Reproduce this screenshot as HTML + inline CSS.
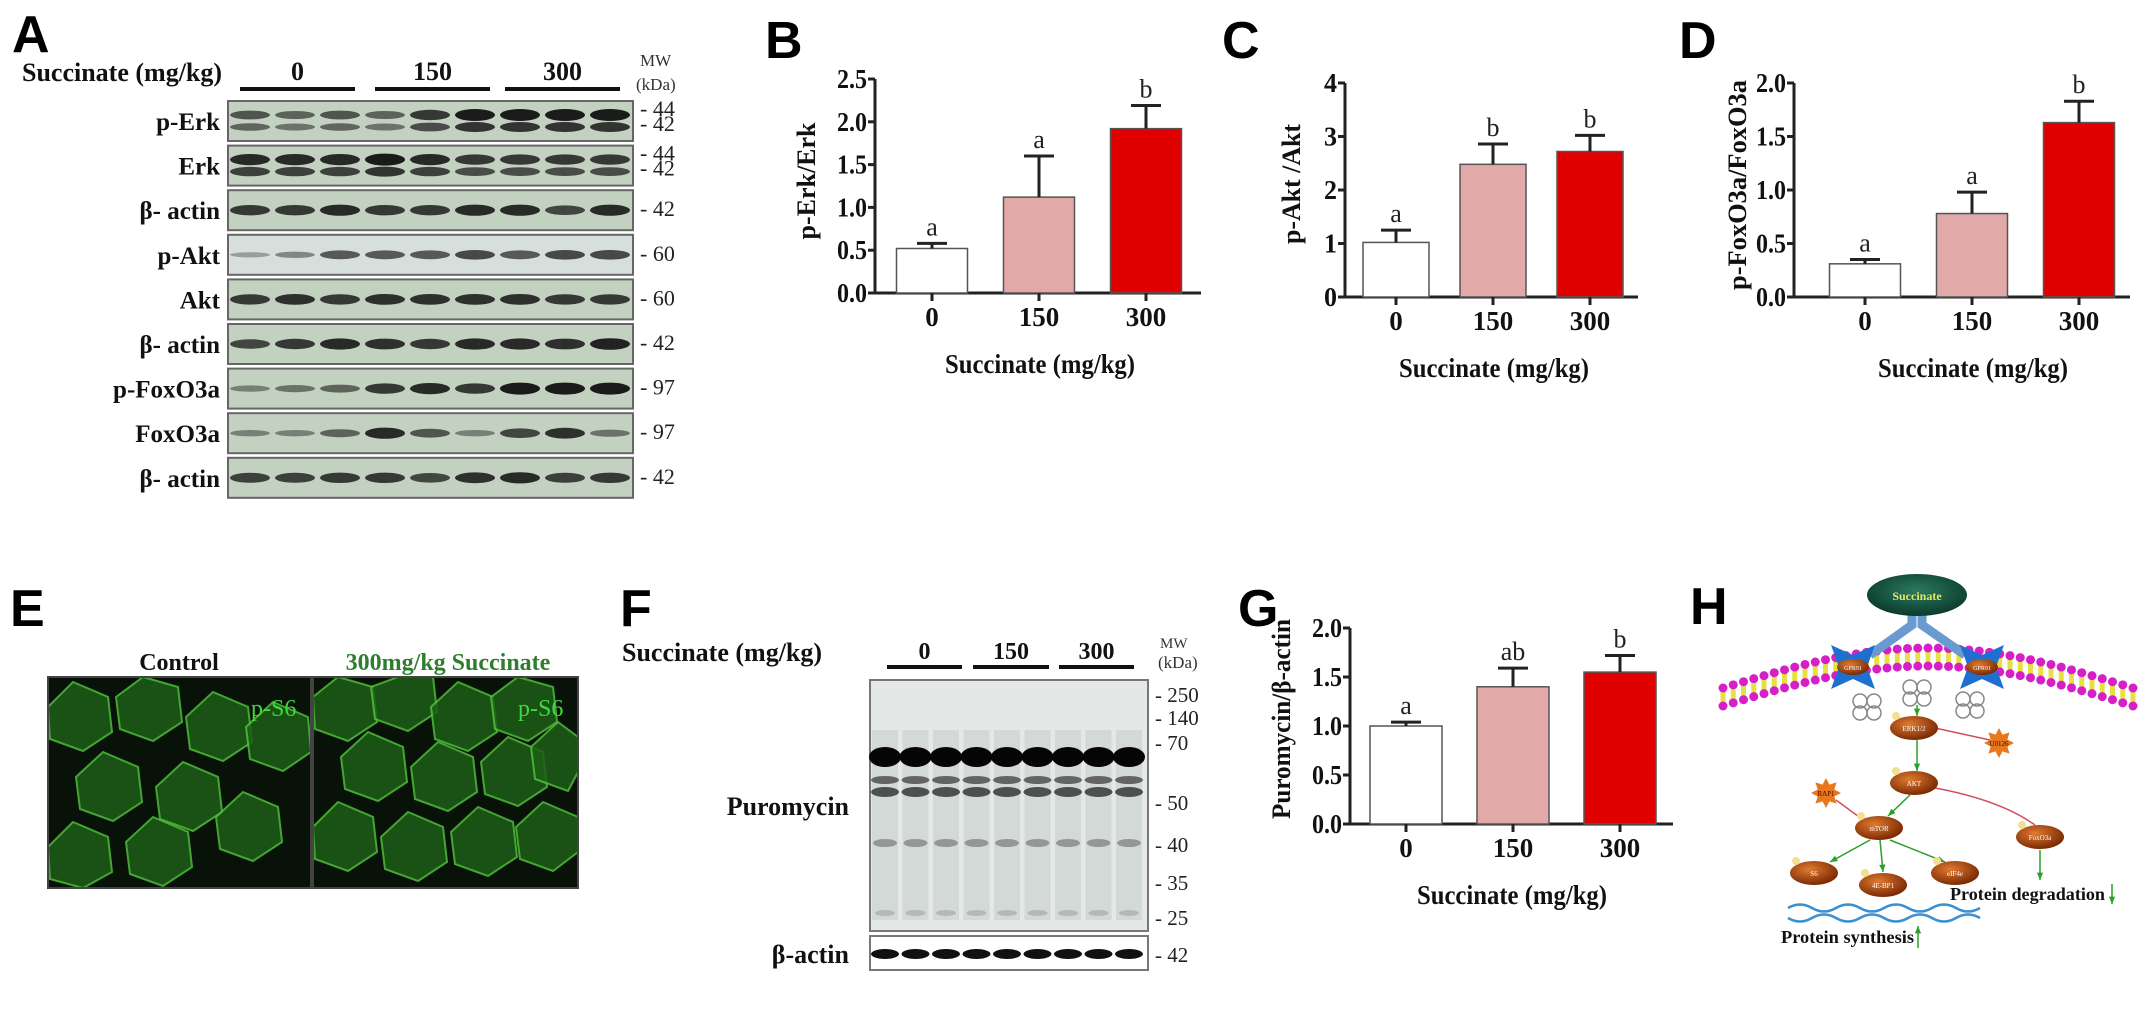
<!DOCTYPE html>
<html><head><meta charset="utf-8"><style>
html,body{margin:0;padding:0;background:#fff;}
svg{display:block;}
.lt{font-family:"Liberation Sans",sans-serif;font-weight:bold;font-size:52px;fill:#000;}
.sf{font-family:"Liberation Serif",serif;font-weight:bold;fill:#111;}
</style></head><body>
<svg id="fig" width="2150" height="1010" viewBox="0 0 2150 1010" xmlns="http://www.w3.org/2000/svg">
<defs>
<radialGradient id="brown" cx="40%" cy="35%" r="65%"><stop offset="0" stop-color="#e07a30"/><stop offset="1" stop-color="#7a2a05"/></radialGradient>
<radialGradient id="teal" cx="50%" cy="40%" r="60%"><stop offset="0" stop-color="#2a7a60"/><stop offset="1" stop-color="#0c3a2c"/></radialGradient>
</defs>
<text class="lt" x="12" y="52">A</text>
<text class="lt" x="765" y="58">B</text>
<text class="lt" x="1222" y="58">C</text>
<text class="lt" x="1679" y="58">D</text>
<text class="lt" x="10" y="626">E</text>
<text class="lt" x="620" y="626">F</text>
<text class="lt" x="1238" y="626">G</text>
<text class="lt" x="1690" y="624">H</text>

<g id="blotA"></g>
<g id="panelE"></g>
<g id="blotF"></g>
<g id="charts"></g>
<g id="diagram"></g>
</svg>
<script>
// ---- chart data ----
const categories = ['0', '150', '300'];
const erkMeans = [0.52, 1.12, 1.92];
const erkErr = [0.06, 0.48, 0.27];
const erkSig = ['a', 'a', 'b'];
const erkTicks = ['0.0', '0.5', '1.0', '1.5', '2.0', '2.5'];
const aktMeans = [1.02, 2.48, 2.72];
const aktErr = [0.23, 0.38, 0.30];
const aktSig = ['a', 'b', 'b'];
const aktTicks = ['0', '1', '2', '3', '4'];
const foxoMeans = [0.31, 0.78, 1.63];
const foxoErr = [0.04, 0.20, 0.20];
const foxoSig = ['a', 'a', 'b'];
const foxoTicks = ['0.0', '0.5', '1.0', '1.5', '2.0'];
const puroMeans = [1.00, 1.40, 1.55];
const puroErr = [0.04, 0.19, 0.17];
const puroSig = ['a', 'ab', 'b'];
const puroTicks = ['0.0', '0.5', '1.0', '1.5', '2.0'];
const barColors = ['#ffffff', '#e2a9a9', '#e00000'];

const NS = 'http://www.w3.org/2000/svg';
function mk(parent, tag, attrs, text) {
  const e = document.createElementNS(NS, tag);
  for (const k in attrs) e.setAttribute(k, attrs[k]);
  if (text !== undefined) e.textContent = text;
  parent.appendChild(e);
  return e;
}

function drawChart(id, cfg, means, errs, sigs, ticks, ylabel) {
  const g = mk(document.getElementById('charts'), 'g', {});
  
  
  const maxV = parseFloat(ticks[ticks.length - 1]);
  const y = v => cfg.y0 - (v / maxV) * (cfg.y0 - cfg.yTop);
  const x = i => cfg.c0 + i * cfg.step;
  const ya = mk(g, 'line', {x1: cfg.ax, y1: cfg.yTop, x2: cfg.ax, y2: cfg.y0 + 1, stroke: '#222', 'stroke-width': 3});
  
  
  const xa = mk(g, 'line', {x1: cfg.ax - 1, y1: cfg.y0, x2: cfg.axEnd, y2: cfg.y0, stroke: '#222', 'stroke-width': 3});
  
  
  ticks.forEach(t => {
    const ty = y(parseFloat(t));
    mk(g, 'line', {x1: cfg.ax - 7, y1: ty, x2: cfg.ax, y2: ty, stroke: '#222', 'stroke-width': 3});
    const tl = mk(g, 'text', {x: cfg.ax - 8, y: ty + 9, 'text-anchor': 'end', 'font-size': 27, class: 'sf', textLength: t.length > 1 ? 30 : 13, lengthAdjust: 'spacingAndGlyphs'}, t);
    
    
  });
  categories.forEach((c, i) => {
    const cx = x(i);
    const top = y(means[i]);
    const bar = mk(g, 'rect', {x: cx - cfg.bw / 2, y: top, width: cfg.bw, height: cfg.y0 - top, fill: barColors[i], stroke: '#555', 'stroke-width': 1.5});
    
    
    const et = y(means[i] + errs[i]);
    const eb = mk(g, 'path', {d: `M${cx},${top} V${et} M${cx - 15},${et} H${cx + 15}`, stroke: '#222', 'stroke-width': 3, fill: 'none'});
    
    
    const sl = mk(g, 'text', {x: cx, y: et - 8, 'text-anchor': 'middle', 'font-size': 26, 'font-family': 'Liberation Serif, serif', fill: '#222'}, sigs[i]);
    
    
    mk(g, 'line', {x1: cx, y1: cfg.y0, x2: cx, y2: cfg.y0 + 8, stroke: '#222', 'stroke-width': 3});
    const xl = mk(g, 'text', {x: cx, y: cfg.y0 + 33, 'text-anchor': 'middle', 'font-size': 27, class: 'sf'}, c);
    
    
  });
  const xt = mk(g, 'text', {x: cfg.titleX, y: cfg.y0 + 80, 'text-anchor': 'middle', 'font-size': 27, class: 'sf', textLength: 190, lengthAdjust: 'spacingAndGlyphs'}, 'Succinate (mg/kg)');
  
  
  const cy = cfg.ylc;
  const yt = mk(g, 'text', {x: cfg.ylx, y: cy, 'text-anchor': 'middle', 'font-size': 26, class: 'sf', textLength: cfg.ylLen, lengthAdjust: 'spacingAndGlyphs', transform: `rotate(-90 ${cfg.ylx} ${cy})`}, ylabel);
  
  
}

drawChart('chart-p-erk', {ax: 875, axEnd: 1201, y0: 293, yTop: 79, c0: 932, step: 107, bw: 71, titleX: 1040, ylx: 815, ylc: 181, ylLen: 117}, erkMeans, erkErr, erkSig, erkTicks, 'p-Erk/Erk');
drawChart('chart-p-akt', {ax: 1345, axEnd: 1638, y0: 297, yTop: 83, c0: 1396, step: 97, bw: 66, titleX: 1494, ylx: 1300, ylc: 184, ylLen: 120}, aktMeans, aktErr, aktSig, aktTicks, 'p-Akt /Akt');
drawChart('chart-p-foxo3a', {ax: 1794, axEnd: 2130, y0: 297, yTop: 83, c0: 1865, step: 107, bw: 71, titleX: 1973, ylx: 1746, ylc: 185, ylLen: 210}, foxoMeans, foxoErr, foxoSig, foxoTicks, 'p-FoxO3a/FoxO3a');
drawChart('chart-puromycin', {ax: 1350, axEnd: 1673, y0: 824, yTop: 628, c0: 1406, step: 107, bw: 72, titleX: 1512, ylx: 1290, ylc: 719, ylLen: 200}, puroMeans, puroErr, puroSig, puroTicks, 'Puromycin/β-actin');

// ---- Blot A ----
const rowLabels = ['p-Erk', 'Erk', 'β- actin', 'p-Akt', 'Akt', 'β- actin', 'p-FoxO3a', 'FoxO3a', 'β- actin'];
const rowMW = [['44', '42'], ['44', '42'], ['42'], ['60'], ['60'], ['42'], ['97'], ['97'], ['42']];
const rowInt = [
  [0.6,0.5,0.6,0.5,0.8,1,1,1,1],[0.9,0.9,0.9,1,0.9,0.8,0.8,0.8,0.8],[0.8,0.8,0.9,0.8,0.8,0.9,0.9,0.7,0.9],
  [0.15,0.3,0.6,0.6,0.6,0.7,0.6,0.7,0.7],[0.8,0.85,0.8,0.85,0.85,0.85,0.85,0.8,0.8],[0.7,0.8,0.9,0.85,0.8,0.9,0.9,0.85,0.95],
  [0.3,0.4,0.5,0.8,0.9,0.8,1,1,1],[0.3,0.3,0.5,0.9,0.6,0.3,0.7,0.85,0.4],[0.75,0.75,0.8,0.8,0.7,0.85,0.9,0.75,0.8]];
(function(){
  const g = document.getElementById('blotA');
  mk(g, 'text', {x: 22, y: 81, 'font-size': 26, class: 'sf'}, 'Succinate (mg/kg)');
  const groups = [['0', 240, 355], ['150', 375, 490], ['300', 505, 620]];
  groups.forEach(gr => {
    mk(g, 'text', {x: (gr[1] + gr[2]) / 2, y: 80, 'text-anchor': 'middle', 'font-size': 26, class: 'sf'}, gr[0]);
    mk(g, 'line', {x1: gr[1], y1: 89, x2: gr[2], y2: 89, stroke: '#111', 'stroke-width': 4});
  });
  mk(g, 'text', {x: 640, y: 66, 'font-size': 17, 'font-family': 'Liberation Serif, serif', fill: '#333'}, 'MW');
  mk(g, 'text', {x: 636, y: 90, 'font-size': 17, 'font-family': 'Liberation Serif, serif', fill: '#333'}, '(kDa)');
  rowLabels.forEach((lab, r) => {
    const top = 101 + r * 44.6;
    const row = mk(g, 'g', {});
    
    
    mk(row, 'rect', {x: 228, y: top, width: 405, height: 40, fill: r === 3 ? '#d6dfdc' : '#c3d2c0', stroke: '#666', 'stroke-width': 2});
    mk(row, 'text', {x: 220, y: top + 29, 'text-anchor': 'end', 'font-size': 25, class: 'sf'}, lab);
    rowInt[r].forEach((v, i) => {
      const cx = 250 + i * 45;
      const dbl = r < 2;
      mk(row, 'ellipse', {cx: cx, cy: top + (dbl ? 14 : 20), rx: 20, ry: 2 + v * 4, fill: '#111', opacity: 0.2 + v * 0.75});
      if (dbl) mk(row, 'ellipse', {cx: cx, cy: top + 26, rx: 20, ry: 2 + v * 3, fill: '#222', opacity: 0.2 + v * 0.7});
    });
    rowMW[r].forEach((m, k) => {
      const yy = rowMW[r].length === 2 ? top + 15 + k * 15 : top + 26;
      mk(row, 'text', {x: 640, y: yy, 'font-size': 22, 'font-family': 'Liberation Serif, serif', fill: '#222'}, '- ' + m);
    });
  });
})();

// ---- Panel E ----
(function(){
  const g = document.getElementById('panelE');
  mk(g, 'text', {x: 179, y: 670, 'text-anchor': 'middle', 'font-size': 24, class: 'sf'}, 'Control');
  mk(g, 'text', {x: 448, y: 670, 'text-anchor': 'middle', 'font-size': 24, class: 'sf', style: 'fill:#2f7d2f'}, '300mg/kg Succinate');
  [[48, 263], [313, 265]].forEach((p, k) => {
    const im = mk(g, 'g', {});
    
    
    mk(im, 'rect', {x: p[0], y: 677, width: p[1], height: 211, fill: '#081208'});
    const cells = k ? [[30,30],[90,20],[150,40],[210,30],[60,90],[130,100],[200,95],[30,160],[100,170],[170,165],[235,160],[250,80]]
                    : [[30,40],[100,30],[170,50],[60,110],[140,120],[30,180],[110,175],[200,150],[230,60]];
    cells.forEach(c => mk(im, 'polygon', {points: [[-32,-10],[-5,-35],[30,-20],[34,15],[5,34],[-28,22]].map(q => Math.min(p[0] + p[1], Math.max(p[0], p[0] + c[0] + q[0])) + ',' + Math.min(888, Math.max(677, 677 + c[1] + q[1]))).join(' '), fill: '#1d5e17', stroke: '#4fc03a', 'stroke-width': 2, opacity: 0.85}));
    mk(im, 'rect', {x: p[0], y: 677, width: p[1], height: 211, fill: 'none', stroke: '#444', 'stroke-width': 2});
    mk(im, 'text', {x: p[0] + p[1] - 60, y: 716, 'font-size': 24, 'font-family': 'Liberation Serif, serif', fill: '#3fd83f'}, 'p-S6');
  });
})();

// ---- Blot F ----
(function(){
  const g = document.getElementById('blotF');
  mk(g, 'text', {x: 622, y: 661, 'font-size': 26, class: 'sf'}, 'Succinate (mg/kg)');
  [['0', 887, 962], ['150', 973, 1049], ['300', 1059, 1134]].forEach(gr => {
    mk(g, 'text', {x: (gr[1] + gr[2]) / 2, y: 659, 'text-anchor': 'middle', 'font-size': 24, class: 'sf'}, gr[0]);
    mk(g, 'line', {x1: gr[1], y1: 667, x2: gr[2], y2: 667, stroke: '#111', 'stroke-width': 4});
  });
  mk(g, 'text', {x: 1160, y: 648, 'font-size': 15, 'font-family': 'Liberation Serif, serif', fill: '#333'}, 'MW');
  mk(g, 'text', {x: 1158, y: 668, 'font-size': 17, 'font-family': 'Liberation Serif, serif', fill: '#333'}, '(kDa)');
  mk(g, 'rect', {x: 870, y: 680, width: 278, height: 251, fill: '#e4e8e6', stroke: '#777', 'stroke-width': 2});
  for (let i = 0; i < 9; i++) {
    const cx = 885 + i * 30.5;
    mk(g, 'rect', {x: cx - 13, y: 730, width: 26, height: 190, fill: '#c8cfcc', opacity: 0.6});
    mk(g, 'ellipse', {cx: cx, cy: 757, rx: 16, ry: 10, fill: '#050505'});
    mk(g, 'ellipse', {cx: cx, cy: 780, rx: 14, ry: 4, fill: '#333', opacity: 0.7});
    mk(g, 'ellipse', {cx: cx, cy: 792, rx: 14, ry: 5, fill: '#222', opacity: 0.75});
    mk(g, 'ellipse', {cx: cx, cy: 843, rx: 12, ry: 4, fill: '#555', opacity: 0.5});
    mk(g, 'ellipse', {cx: cx, cy: 913, rx: 10, ry: 3, fill: '#888', opacity: 0.4});
    mk(g, 'ellipse', {cx: cx, cy: 954, rx: 14, ry: 5, fill: '#111'});
  }
  mk(g, 'rect', {x: 870, y: 936, width: 278, height: 34, fill: 'none', stroke: '#777', 'stroke-width': 2});
  mk(g, 'text', {x: 849, y: 815, 'text-anchor': 'end', 'font-size': 26, class: 'sf'}, 'Puromycin');
  mk(g, 'text', {x: 849, y: 963, 'text-anchor': 'end', 'font-size': 26, class: 'sf'}, 'β-actin');
  [['250', 702], ['140', 725], ['70', 750], ['50', 810], ['40', 852], ['35', 890], ['25', 925], ['42', 962]].forEach(m =>
    mk(g, 'text', {x: 1155, y: m[1], 'font-size': 21, 'font-family': 'Liberation Serif, serif', fill: '#222'}, '- ' + m[0]));
})();

// ---- Diagram H ----
(function(){
  const g = document.getElementById('diagram');
  const mem = mk(g, 'g', {});
  
  
  const curve = t => { const x = 1723 + t * 410; const y = 697 - 40 * Math.sin(Math.PI * t); return [x, y]; };
  for (let i = 0; i <= 40; i++) {
    const [x, y] = curve(i / 40);
    mk(mem, 'line', {x1: x, y1: y - 6, x2: x, y2: y + 6, stroke: '#e6e040', 'stroke-width': 5});
    mk(mem, 'circle', {cx: x, cy: y - 9, r: 4.5, fill: '#d61fc8'});
    mk(mem, 'circle', {cx: x, cy: y + 9, r: 4.5, fill: '#d61fc8'});
  }
  mk(g, 'path', {d: 'M1912,612 L1912,625 L1870,655 M1922,612 L1922,625 L1965,655', stroke: '#6a9bd0', 'stroke-width': 9, fill: 'none'});
  const su = mk(g, 'ellipse', {cx: 1917, cy: 595, rx: 50, ry: 21, fill: 'url(#teal)'});
  
  
  mk(g, 'text', {x: 1917, y: 600, 'text-anchor': 'middle', 'font-size': 12, 'font-family': 'Liberation Serif, serif', 'font-weight': 'bold', fill: '#e8e860'}, 'Succinate');
  [[1853, 667], [1982, 667]].forEach(p => {
    mk(g, 'polygon', {points: `${p[0]-22},${p[1]-22} ${p[0]},${p[1]-12} ${p[0]+22},${p[1]-22} ${p[0]+14},${p[1]} ${p[0]+22},${p[1]+22} ${p[0]},${p[1]+12} ${p[0]-22},${p[1]+22} ${p[0]-14},${p[1]}`, fill: '#1e6fd0'});
    mk(g, 'ellipse', {cx: p[0], cy: p[1], rx: 16, ry: 8, fill: 'url(#brown)'});
    mk(g, 'text', {x: p[0], y: p[1] + 3, 'text-anchor': 'middle', 'font-size': 6, fill: '#fff'}, 'GPR91');
  });
  [[1917, 693], [1867, 707], [1970, 705]].forEach(p => {
    [[-7,-6],[7,-6],[-7,6],[7,6]].forEach(o => mk(g, 'circle', {cx: p[0] + o[0], cy: p[1] + o[1], r: 7, fill: 'none', stroke: '#888', 'stroke-width': 1.5}));
  });
  const arrow = (x1, y1, x2, y2, c) => {
    mk(g, 'line', {x1, y1, x2, y2, stroke: c, 'stroke-width': 1.5});
    const a = Math.atan2(y2 - y1, x2 - x1);
    mk(g, 'polygon', {points: `${x2},${y2} ${x2 - 8 * Math.cos(a - 0.4)},${y2 - 8 * Math.sin(a - 0.4)} ${x2 - 8 * Math.cos(a + 0.4)},${y2 - 8 * Math.sin(a + 0.4)}`, fill: c});
  };
  arrow(1917, 705, 1917, 716, '#2aa02a');
  arrow(1917, 740, 1917, 771, '#2aa02a');
  arrow(1910, 795, 1888, 816, '#2aa02a');
  arrow(1870, 840, 1830, 862, '#2aa02a');
  arrow(1880, 840, 1883, 872, '#2aa02a');
  arrow(1890, 840, 1945, 862, '#2aa02a');
  arrow(2040, 850, 2040, 880, '#2aa02a');
  mk(g, 'path', {d: 'M1990,740 L1935,728', stroke: '#d05060', 'stroke-width': 1.5, fill: 'none'});
  mk(g, 'path', {d: 'M1836,800 L1866,822', stroke: '#d05060', 'stroke-width': 1.5, fill: 'none'});
  mk(g, 'path', {d: 'M1935,788 Q2000,800 2035,825', stroke: '#d05060', 'stroke-width': 1.5, fill: 'none'});
  [['ERK1/2', 1914, 728], ['AKT', 1914, 783], ['mTOR', 1879, 828], ['FoxO3a', 2040, 837], ['S6', 1814, 873], ['4E-BP1', 1883, 885], ['eIF4e', 1955, 873]].forEach(n => {
    const e = mk(g, 'ellipse', {cx: n[1], cy: n[2], rx: 24, ry: 12, fill: 'url(#brown)'});
    
    
    mk(g, 'text', {x: n[1], y: n[2] + 3, 'text-anchor': 'middle', 'font-size': 7, 'font-family': 'Liberation Serif, serif', fill: '#fff'}, n[0]);
    mk(g, 'circle', {cx: n[1] - 18, cy: n[2] - 12, r: 4, fill: '#f0e090'});
  });
  [['U0126', 1999, 743], ['RAP1', 1826, 793]].forEach(s => {
    let pts = [];
    for (let k = 0; k < 16; k++) { const r = k % 2 ? 9 : 15; const a = k * Math.PI / 8; pts.push((s[1] + r * Math.cos(a)) + ',' + (s[2] + r * Math.sin(a))); }
    mk(g, 'polygon', {points: pts.join(' '), fill: '#e8781e'});
    mk(g, 'text', {x: s[1], y: s[2] + 3, 'text-anchor': 'middle', 'font-size': 7, fill: '#400'}, s[0]);
  });
  mk(g, 'path', {d: 'M1788,908 q12,-7 24,0 t24,0 t24,0 t24,0 t24,0 t24,0 t24,0 t24,0 M1788,918 q12,7 24,0 t24,0 t24,0 t24,0 t24,0 t24,0 t24,0 t24,0', stroke: '#3a90d0', 'stroke-width': 2.5, fill: 'none'});
  mk(g, 'text', {x: 1950, y: 900, 'font-size': 18, class: 'sf', textLength: 155, lengthAdjust: 'spacingAndGlyphs'}, 'Protein degradation');
  arrow(2112, 884, 2112, 904, '#2aa02a');
  mk(g, 'text', {x: 1781, y: 943, 'font-size': 18, class: 'sf', textLength: 133, lengthAdjust: 'spacingAndGlyphs'}, 'Protein synthesis');
  arrow(1918, 948, 1918, 926, '#2aa02a');
})();
</script>
</body></html>
